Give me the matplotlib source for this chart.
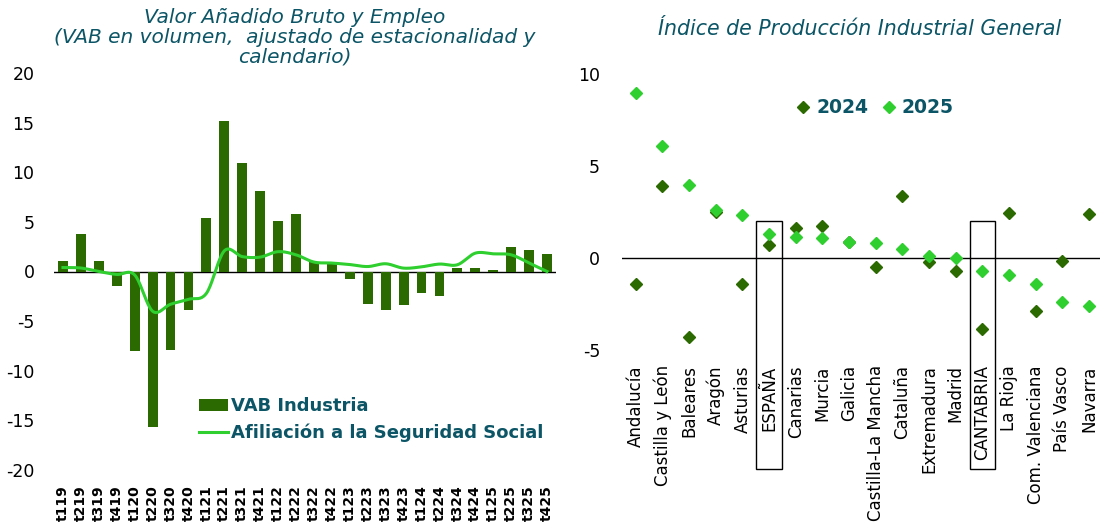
import numpy as np
import matplotlib
matplotlib.use("Agg")
import matplotlib.pyplot as plt
from matplotlib.patches import Rectangle

plt.rcParams['font.family'] = ['DejaVu Sans']
plt.rcParams['axes.unicode_minus'] = False

# --- left panel data
trimestres = ["t119", "t219", "t319", "t419", "t120", "t220", "t320", "t420",
              "t121", "t221", "t321", "t421", "t122", "t222", "t322", "t422",
              "t123", "t223", "t323", "t423", "t124", "t224", "t324", "t424",
              "t125", "t225", "t325", "t425"]
vab_industria = [1.1, 3.8, 1.1, -1.45, -8.05, -15.7, -7.95, -3.85,
                 5.4, 15.2, 10.9, 8.15, 5.1, 5.8, 1.0, 0.9,
                 -0.75, -3.25, -3.9, -3.4, -2.2, -2.45, 0.4, 0.37,
                 0.17, 2.5, 2.2, 1.8]
afiliacion = [0.4, 0.35, 0.0, -0.3, -0.35, -4.0, -3.3, -2.8,
              -2.2, 2.08, 1.5, 1.45, 2.0, 1.68, 0.95, 0.85,
              0.7, 0.5, 0.78, 0.34, 0.47, 0.75, 0.68, 1.85,
              1.78, 1.68, 0.85, 0.0]

# --- right panel data
regiones = ["Andalucía", "Castilla y León", "Baleares", "Aragón", "Asturias",
            "ESPAÑA", "Canarias", "Murcia", "Galicia", "Castilla-La Mancha",
            "Cataluña", "Extremadura", "Madrid", "CANTABRIA", "La Rioja",
            "Com. Valenciana", "País Vasco", "Navarra"]
ipi_2024 = [-1.4, 3.9, -4.3, 2.5, -1.4, 0.7, 1.63, 1.72, 0.9, -0.49,
            3.4, -0.2, -0.69, -3.86, 2.48, -2.9, -0.18, 2.41]
ipi_2025 = [9.0, 6.08, 3.98, 2.62, 2.32, 1.32, 1.17, 1.12, 0.9, 0.81,
            0.5, 0.12, 0.0, -0.69, -0.91, -1.4, -2.41, -2.59]
destacadas = ["ESPAÑA", "CANTABRIA"]

dark = "#2b6a00"
light = "#2ecf2e"
teal = "#0b5566"

fig = plt.figure(figsize=(11, 5.23), dpi=100)

# ---------------- left panel
ax1 = fig.add_axes([54/1100, 1-470/523, 502/1100, 397/523])
x = np.arange(len(trimestres))
bars = ax1.bar(x, vab_industria, width=0.55, color=dark, label="VAB Industria", zorder=2)

# smooth line through the quarterly points (like a smoothed chart line)
def catmull(xs, ys, n=20):
    xs = np.asarray(xs, float); ys = np.asarray(ys, float)
    px = np.concatenate([[2*xs[0]-xs[1]], xs, [2*xs[-1]-xs[-2]]])
    py = np.concatenate([[2*ys[0]-ys[1]], ys, [2*ys[-1]-ys[-2]]])
    ox, oy = [], []
    for i in range(1, len(px)-2):
        t = np.linspace(0, 1, n, endpoint=False)
        for arr, out in ((px, ox), (py, oy)):
            p0, p1, p2, p3 = arr[i-1], arr[i], arr[i+1], arr[i+2]
            out.extend(0.5*((2*p1) + (-p0+p2)*t + (2*p0-5*p1+4*p2-p3)*t**2
                            + (-p0+3*p1-3*p2+p3)*t**3))
    ox.append(xs[-1]); oy.append(ys[-1])
    return np.array(ox), np.array(oy)

sx, sy = catmull(x, afiliacion)
ax1.plot(sx, sy, color=light, lw=2.2, zorder=3)
linea, = ax1.plot([], [], color=light, lw=2.2, label="Afiliación a la Seguridad Social")

ax1.axhline(0, color="black", lw=1, zorder=1)
ax1.set_xlim(-0.5, len(trimestres)-0.5)
ax1.set_ylim(-20, 20)
ax1.set_yticks([-20, -15, -10, -5, 0, 5, 10, 15, 20])
ax1.set_xticks(x)
ax1.set_xticklabels(trimestres, rotation=90, fontweight="bold", fontsize=10)
ax1.tick_params(axis="both", length=0)
ax1.tick_params(axis="x", pad=11)
ax1.tick_params(axis="y", pad=14, labelsize=12.5)
for s in ax1.spines.values():
    s.set_visible(False)

leg1 = ax1.legend(handles=[bars, linea], loc="upper left",
                  bbox_to_anchor=(192/1100, 1-390/523),
                  bbox_transform=fig.transFigure, frameon=False,
                  fontsize=13, handlelength=1.6, handletextpad=0.15,
                  labelspacing=0.45, borderaxespad=0)
for t in leg1.get_texts():
    t.set_color(teal)
    t.set_fontweight("semibold")

fig.text(295/1100, 1-8/523,
         "Valor Añadido Bruto y Empleo\n(VAB en volumen,  ajustado de estacionalidad y\ncalendario)",
         ha="center", va="top", fontsize=14.5, style="italic", color=teal,
         linespacing=1.05)

# ---------------- right panel
ax2 = fig.add_axes([622.4/1100, 1-350/523, 480/1100, 275.7/523])
xr = np.arange(len(regiones))
ax2.plot(xr, ipi_2024, "D", color=dark, ms=6.5, ls="none", label="2024", zorder=3)
ax2.plot(xr, ipi_2025, "D", color=light, ms=6.5, ls="none", label="2025", zorder=4)
ax2.axhline(0, color="black", lw=1, zorder=1)
ax2.set_xlim(-0.5, len(regiones)-0.5)
ax2.set_ylim(-5, 10)
ax2.set_yticks([-5, 0, 5, 10])
ax2.set_xticks(xr)
ax2.set_xticklabels(regiones, rotation=90, fontsize=12)
ax2.tick_params(axis="both", length=0)
ax2.tick_params(axis="x", pad=11)
ax2.tick_params(axis="y", pad=16, labelsize=12.5)
for s in ax2.spines.values():
    s.set_visible(False)

for name in destacadas:
    i = regiones.index(name)
    ax2.add_patch(Rectangle((i-0.48, -11.5), 0.96, 13.5, fill=False,
                            edgecolor="black", lw=1, clip_on=False, zorder=5))

leg2 = ax2.legend(loc="center left", bbox_to_anchor=(788/1100, 1-108/523),
                  bbox_transform=fig.transFigure, ncol=2, frameon=False,
                  fontsize=13.5, handlelength=0.8, handletextpad=0.3,
                  columnspacing=0.7, markerscale=0.95, borderaxespad=0)
for t in leg2.get_texts():
    t.set_color(teal)
    t.set_fontweight("bold")

fig.text(860/1100, 1-29/523, "Índice de Producción Industrial General",
         ha="center", va="center", fontsize=14.8, style="italic", color=teal)

fig.savefig("out.png", dpi=100)
